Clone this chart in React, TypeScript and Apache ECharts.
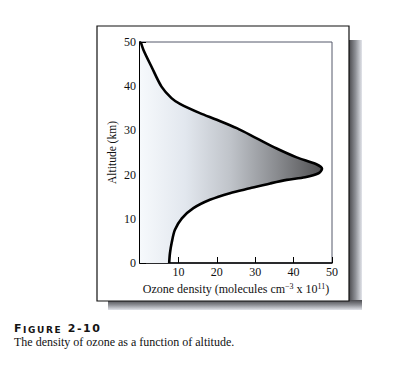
import React, { useEffect, useRef } from 'react';
import * as echarts from 'echarts';

// Ozone profile (altitude in km, density in 1e11 molecules/cm^3)
const altitude = [0, 2.2, 4.8, 7.5, 10.1, 12.4, 14.3, 15.8, 16.9, 18.0, 18.8, 19.4, 20.3, 21.3, 22.4, 23.9, 25.9, 28.2, 30.5, 32.4, 33.9, 36.0, 37.3, 39.9, 44.4, 48.2, 50];
const density = [7.6, 7.8, 8.3, 9.1, 10.9, 13.9, 18.2, 23.4, 28.6, 33.9, 38.2, 43.0, 46.5, 47.4, 45.8, 40.8, 35.6, 30.4, 25.2, 20.0, 15.6, 10.4, 8.2, 5.6, 3.0, 0.9, 0.2];

const xMin = 0;
const xMax = 50;
const yMin = 0;
const yMax = 50;
const tickStep = 10;

const yAxisTitle = 'Altitude (km)';
const figureLetters = ['F', 'I', 'G', 'U', 'R', 'E', ' ', '2', '-', '1', '0'];
const captionText = 'The density of ozone as a function of altitude.';

export default function App() {
  const ref = useRef<HTMLDivElement>(null);

  useEffect(() => {
    if (!ref.current) return;
    const chart = echarts.init(ref.current, null, { renderer: 'svg' });
    const serif = 'Liberation Serif';
    const pairs = density.map((d, i) => [d, altitude[i]]);

    const fillGradient = new echarts.graphic.LinearGradient(0, 0, 1, 0, [
      { offset: 0, color: '#f6f9fc' },
      { offset: 0.25, color: '#e2e7ee' },
      { offset: 0.5, color: '#bfc3c9' },
      { offset: 0.75, color: '#8a8c90' },
      { offset: 1, color: '#505052' },
    ]);

    const smallCaps = new Set(['I', 'G', 'U', 'R', 'E']);
    const figureRich = figureLetters
      .map((ch) => (smallCaps.has(ch) ? '{c|' + ch + '}' : '{b|' + ch + '}'))
      .join('');

    chart.setOption({
      animation: false,
      backgroundColor: '#ffffff',
      grid: {
        left: 140,
        top: 42,
        right: 65,
        bottom: 104,
        show: true,
        borderColor: '#55586a',
        borderWidth: 1,
        backgroundColor: 'transparent',
      },
      xAxis: {
        type: 'value',
        min: xMin,
        max: xMax,
        interval: tickStep,
        splitLine: { show: false },
        axisLine: { show: true, lineStyle: { color: '#000', width: 1.5 } },
        axisTick: { show: true, inside: true, length: 6, lineStyle: { color: '#000', width: 1 } },
        axisLabel: {
          margin: 3,
          color: '#111',
          fontFamily: serif,
          fontSize: 12,
          showMinLabel: false,
        },
        name: '{a|Ozone density (molecules cm}{s|−3}{a| x 10}{s|11}{a|)}',
        nameLocation: 'middle',
        nameGap: 16,
        nameTextStyle: {
          rich: {
            a: { fontFamily: serif, fontSize: 12, color: '#111', lineHeight: 12 },
            s: { fontFamily: serif, fontSize: 8, color: '#111', lineHeight: 12, verticalAlign: 'top' },
          },
        },
      },
      yAxis: {
        type: 'value',
        min: yMin,
        max: yMax,
        interval: tickStep,
        splitLine: { show: false },
        axisLine: { show: true, lineStyle: { color: '#000', width: 2 } },
        axisTick: { show: true, inside: true, length: 6, lineStyle: { color: '#000', width: 1 } },
        axisLabel: { margin: 4, color: '#111', fontFamily: serif, fontSize: 12 },
        name: yAxisTitle,
        nameLocation: 'middle',
        nameRotate: 90,
        nameGap: 22,
        nameTextStyle: { fontFamily: serif, fontSize: 11.5, color: '#111' },
      },
      graphic: [
        {
          type: 'rect',
          z: -20,
          shape: { x: 349, y: 40, width: 13, height: 270 },
          style: {
            fill: new echarts.graphic.LinearGradient(0, 0, 1, 0, [
              { offset: 0, color: '#4a4a4e' },
              { offset: 0.5, color: '#8e9096' },
              { offset: 1, color: '#e2e4ea' },
            ]),
          },
        },
        {
          type: 'rect',
          z: -20,
          shape: { x: 108, y: 300, width: 254, height: 10 },
          style: {
            fill: new echarts.graphic.LinearGradient(0, 0, 0, 1, [
              { offset: 0, color: '#4a4a4e' },
              { offset: 0.5, color: '#8e9096' },
              { offset: 1, color: '#e2e4ea' },
            ]),
          },
        },
        {
          type: 'rect',
          z: -10,
          shape: { x: 97, y: 26, width: 252, height: 275 },
          style: { fill: '#ffffff', stroke: '#111', lineWidth: 1.2 },
        },
        {
          type: 'text',
          z: 10,
          left: 14,
          top: 323,
          style: {
            text: figureRich,
            rich: {
              b: { fontFamily: 'DejaVu Sans', fontWeight: 'bold', fontSize: 11, fill: '#141414', lineHeight: 11, padding: [0, 1.6, 0, 0] },
              c: { fontFamily: 'DejaVu Sans', fontWeight: 'bold', fontSize: 9, fill: '#141414', lineHeight: 11, verticalAlign: 'bottom', padding: [0, 1.6, 0, 0] },
            },
          },
        },
        {
          type: 'text',
          z: 10,
          left: 14,
          top: 335.5,
          style: {
            text: captionText,
            fontFamily: serif,
            fontSize: 12,
            lineHeight: 12,
            fill: '#111',
          },
        },
      ],
      series: [
        {
          type: 'custom',
          z: 1,
          silent: true,
          data: [[0, 0]],
          renderItem: (params: any, api: any) => {
            if (params.dataIndex !== 0) return null;
            const pts: number[][] = [api.coord([0, altitude[0]])];
            for (let i = 0; i < density.length; i++) {
              pts.push(api.coord([density[i], altitude[i]]));
            }
            pts.push(api.coord([0, altitude[altitude.length - 1]]));
            return {
              type: 'polygon',
              shape: { points: pts },
              style: { fill: fillGradient, stroke: 'none' },
            };
          },
        },
        {
          type: 'line',
          z: 3,
          data: pairs,
          smooth: 0.3,
          showSymbol: false,
          silent: true,
          lineStyle: { color: '#000', width: 2.6 },
        },
      ],
    });

    return () => chart.dispose();
  }, []);

  return (
    <div
      ref={ref}
      style={{ position: 'fixed', left: 0, top: 0, width: 397, height: 367 }}
    />
  );
}
